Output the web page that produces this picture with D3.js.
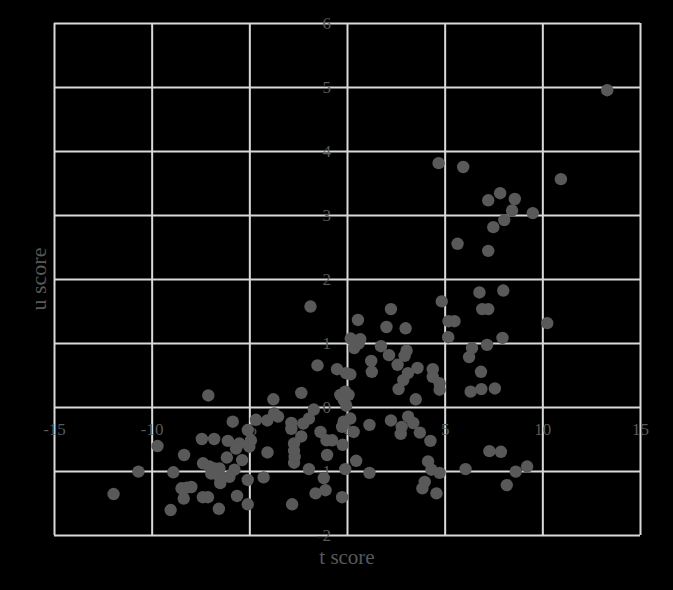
<!DOCTYPE html>
<html>
<head>
<meta charset="utf-8">
<script src="https://cdn.jsdelivr.net/npm/d3@7"></script>
<style>
  html, body { margin: 0; padding: 0; background: #000; }
  svg { display: block; }
</style>
</head>
<body>
<svg id="chart" width="673" height="590"></svg>
<script>
const tScores = [
  13.32, 4.69, 5.95, 10.95, 7.84, 7.23, 8.59, 8.45, 9.51, 8.05, 7.49, 5.66, 7.23,
  6.78, 8.0, 4.85, 6.92, 7.23, 5.2, 5.5, 10.25, 5.18, 7.96, 7.17, 6.4, 6.25, 6.86,
  6.33, 6.88, 7.57,
  -1.87, 0.56, 2.25, 2.02, 3.0, 0.19, 0.68, 0.42, 0.59, 0.37, 1.74, 2.15, 3.05, 2.95,
  1.24, 1.27, 2.59, 3.61, 3.12, 2.88, 2.64, 4.39, 4.39, 4.74, 4.74, 3.52, -1.51, -0.51,
  -0.05, 0.17, -2.34, -0.34, 0.08, -0.09, -0.17, -0.04, -7.1, -3.77,
  -4.66, -4.08, -3.73, -3.53, -2.85, -2.85, -2.24, -1.95, -1.70, -2.34, -2.71, -2.71,
  -2.71, -2.68, -1.36, -1.05, -0.76, -0.17, 0.17, -0.25, 0.34, -0.22, -1.02, 0.47, 1.15,
  2.25, 2.8, 3.13, 3.39, 3.73, 2.75, 4.27, -4.07, -1.95, -1.19, -0.09, 1.15, -4.27,
  -1.61, -1.1, -0.25, -2.81, -5.08, -5.08, 4.15, 4.32, 3.98, 3.86, 4.58, 4.74, 7.29,
  7.88, 6.07, 8.64, 9.22, 8.18,
  -5.85, -5.08, -4.92, -5.0, -5.51, -6.1, -5.68, -7.43, -6.8, -9.7, -8.34, -6.15, -5.37,
  -10.68, -8.89, -7.37, -7.04, -6.78, -6.53, -6.95, -6.53, -6.49, -5.76, -6.02, -8.47,
  -7.97, -8.36, -8.2, -11.95, -7.38, -7.12, -5.63, -9.03, -6.56
];
const uScores = [
  4.95, 3.81, 3.75, 3.56, 3.34, 3.23, 3.25, 3.07, 3.03, 2.92, 2.81, 2.55, 2.44,
  1.79, 1.82, 1.65, 1.53, 1.53, 1.34, 1.34, 1.31, 1.09, 1.08, 0.97, 0.92, 0.78, 0.55,
  0.24, 0.28, 0.29,
  1.57, 1.36, 1.53, 1.25, 1.23, 1.07, 1.06, 0.97, 0.99, 0.92, 0.95, 0.81, 0.88, 0.80,
  0.72, 0.55, 0.66, 0.61, 0.53, 0.42, 0.28, 0.59, 0.47, 0.37, 0.27, 0.12, 0.65, 0.59,
  0.53, 0.51, 0.22, 0.19, 0.19, 0.24, 0.11, 0.02, 0.18, 0.12,
  -0.2, -0.21, -0.10, -0.15, -0.25, -0.34, -0.26, -0.18, -0.04, -0.46, -0.57, -0.68,
  -0.87, -0.78, -0.39, -0.52, -0.52, -0.23, -0.18, -0.31, -0.39, -0.59, -0.75, -0.84, -0.28,
  -0.21, -0.31, -0.15, -0.25, -0.40, -0.42, -0.53, -0.71, -0.97, -1.11, -0.97, -1.03, -1.1,
  -1.35, -1.30, -1.41, -1.52, -1.14, -1.52, -0.85, -0.98, -1.17, -1.27, -1.35, -1.03, -0.69,
  -0.70, -0.97, -1.01, -0.93, -1.22,
  -0.23, -0.36, -0.52, -0.62, -0.57, -0.53, -0.65, -0.5, -0.5, -0.61, -0.75, -0.79, -0.83,
  -1.01, -1.02, -0.88, -0.93, -0.96, -0.96, -1.04, -1.09, -1.19, -0.98, -1.09, -1.27,
  -1.25, -1.43, -1.26, -1.36, -1.41, -1.41, -1.39, -1.61, -1.59
];
const xTicks = [-15, -10, -5, 0, 5, 10, 15];
const yTicks = [-2, -1, 0, 1, 2, 3, 4, 5, 6];
const xTitle = "t score";
const yTitle = "u score";

(function () {
  const points = tScores.map((t, i) => ({ t, u: uScores[i] }));

  const svg = d3.select("#chart");
  const mLeft = 54, mRight = 640, mTop = 23, mBottom = 535;
  const x = d3.scaleLinear().domain([-15, 15]).range([mLeft, mRight]);
  const y = d3.scaleLinear().domain([-2, 6]).range([mBottom, mTop]);

  const gridColor = "#d9d9d9";
  const textColor = "#595959";
  const font = "'Liberation Serif', 'Times New Roman', serif";

  svg.append("rect").attr("width", 673).attr("height", 590).attr("fill", "#000");

  // gridlines
  const gx = svg.append("g")
    .attr("transform", `translate(0,${mBottom})`)
    .call(d3.axisBottom(x).tickValues(xTicks).tickSize(-(mBottom - mTop)).tickFormat(""));
  const gy = svg.append("g")
    .attr("transform", `translate(${mLeft},0)`)
    .call(d3.axisLeft(y).tickValues(yTicks).tickSize(-(mRight - mLeft)).tickFormat(""));
  [gx, gy].forEach(g => {
    g.select(".domain").remove();
    g.selectAll("line").attr("stroke", gridColor).attr("stroke-width", 2);
  });

  // tick labels along axes crossing at 0
  const ax = svg.append("g")
    .attr("transform", `translate(0,${y(0)})`)
    .call(d3.axisBottom(x).tickValues(xTicks).tickSize(0).tickPadding(16).tickFormat(d => String(d)));
  const ay = svg.append("g")
    .attr("transform", `translate(${x(0)},0)`)
    .call(d3.axisLeft(y).tickValues(yTicks).tickSize(0).tickPadding(16).tickFormat(d => String(d)));
  [ax, ay].forEach(g => {
    g.select(".domain").remove();
    g.selectAll("text").attr("fill", textColor).style("font-family", font).style("font-size", "17px");
  });

  // axis titles
  svg.append("text")
    .attr("x", x(0)).attr("y", 564)
    .attr("text-anchor", "middle")
    .attr("fill", textColor)
    .style("font-family", font).style("font-size", "21px")
    .text(xTitle);
  svg.append("text")
    .attr("transform", `translate(46,${(mTop + mBottom) / 2}) rotate(-90)`)
    .attr("text-anchor", "middle")
    .attr("fill", textColor)
    .style("font-family", font).style("font-size", "22px")
    .text(yTitle);

  // points
  svg.append("g").selectAll("circle")
    .data(points)
    .join("circle")
    .attr("cx", d => x(d.t))
    .attr("cy", d => y(d.u))
    .attr("r", 6.2)
    .attr("fill", "#595959");
})();
</script>
</body>
</html>
